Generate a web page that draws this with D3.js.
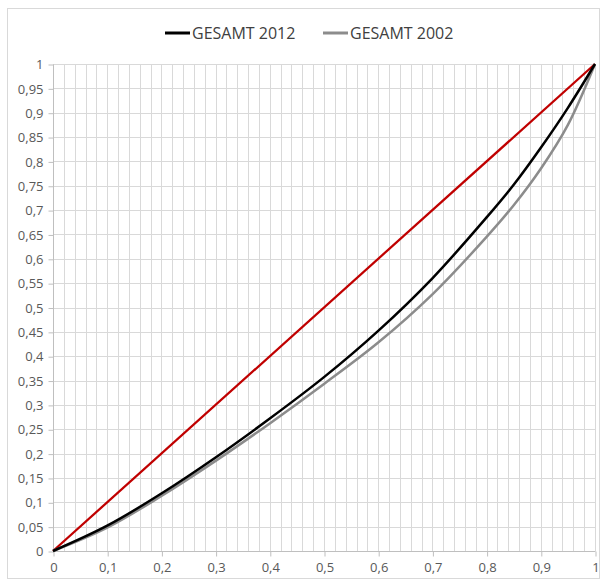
<!DOCTYPE html>
<html>
<head>
<meta charset="utf-8">
<script src="https://cdn.jsdelivr.net/npm/d3@7/dist/d3.min.js"></script>
<style>
  html, body { margin: 0; padding: 0; background: #fff; }
  svg { display: block; font-family: "Open Sans", "Liberation Sans", sans-serif; }
</style>
</head>
<body>
<svg id="chart" width="605" height="581"></svg>
<script>
// Cumulative population share (x) and cumulative income share (y)
const shares = [0, 0.1, 0.2, 0.3, 0.4, 0.5, 0.6, 0.7, 0.8, 0.85, 0.9, 0.95, 1];
const gesamt2012 = [0, 0.052, 0.118, 0.192, 0.272, 0.357, 0.452, 0.56, 0.685, 0.752, 0.828, 0.91, 1];
const gesamt2002 = [0, 0.048, 0.113, 0.185, 0.262, 0.343, 0.428, 0.527, 0.645, 0.71, 0.785, 0.875, 1];
const equality = [0, 1];

const seriesNames = ["GESAMT 2012", "GESAMT 2002"];
const seriesColors = ["#000000", "#8c8c8c"];
const xTicks = [0, 0.1, 0.2, 0.3, 0.4, 0.5, 0.6, 0.7, 0.8, 0.9, 1];
const yTicks = [0, 0.05, 0.1, 0.15, 0.2, 0.25, 0.3, 0.35, 0.4, 0.45, 0.5,
                0.55, 0.6, 0.65, 0.7, 0.75, 0.8, 0.85, 0.9, 0.95, 1];
const xMinor = d3.range(0, 51).map(i => i / 50);

const svg = d3.select("#chart");
const margin = { left: 53, top: 64 };
const plotW = 542, plotH = 487;

// Chart frame
svg.append("rect")
  .attr("x", 7.5).attr("y", 8.5)
  .attr("width", 592).attr("height", 570)
  .attr("fill", "#fff").attr("stroke", "#d9d9d9").attr("stroke-width", 1);

const x = d3.scaleLinear().domain([0, 1]).range([margin.left, margin.left + plotW]);
const y = d3.scaleLinear().domain([0, 1]).range([margin.top + plotH, margin.top]);

const fmt = d => String(+d.toFixed(2)).replace(".", ",");

// Gridlines
const grid = svg.append("g").attr("stroke", "#d9d9d9").attr("stroke-width", 1);
grid.selectAll("line.v").data(xMinor).join("line")
  .attr("class", "v")
  .attr("x1", d => Math.round(x(d)) + 0.5).attr("x2", d => Math.round(x(d)) + 0.5)
  .attr("y1", y(0)).attr("y2", y(1));
grid.selectAll("line.h").data(yTicks).join("line")
  .attr("class", "h")
  .attr("x1", x(0)).attr("x2", x(1))
  .attr("y1", d => Math.round(y(d)) + 0.5).attr("y2", d => Math.round(y(d)) + 0.5);

// Axes
const xAxis = svg.append("g")
  .attr("transform", `translate(0.5,${Math.round(y(0)) + 0.5})`)
  .call(d3.axisBottom(x).tickValues(xTicks).tickFormat(fmt).tickSize(5).tickPadding(6));
const yAxis = svg.append("g")
  .attr("transform", `translate(${Math.round(x(0)) + 0.5},0.5)`)
  .call(d3.axisLeft(y).tickValues(yTicks).tickFormat(fmt).tickSize(5).tickPadding(5));

[xAxis, yAxis].forEach(a => {
  a.select(".domain").attr("stroke", "#bfbfbf");
  a.selectAll(".tick line").attr("stroke", "#bfbfbf");
  a.selectAll(".tick text")
    .attr("fill", "#595959")
    .style("font-size", "13px")
    .style("font-family", "\"Open Sans\", sans-serif");
});
xAxis.select(".domain").attr("d", `M${x(0)},0H${x(1)}`);
yAxis.select(".domain").attr("d", `M0,${y(0)}V${y(1)}`);

// Lines
const line = d3.line().x(d => x(d[0])).y(d => y(d[1])).curve(d3.curveCatmullRom.alpha(0.5));

svg.append("path")
  .datum(equality.map(v => [v, v]))
  .attr("d", d3.line().x(d => x(d[0])).y(d => y(d[1])))
  .attr("fill", "none").attr("stroke", "#c00000").attr("stroke-width", 2.25);

svg.append("path")
  .datum(shares.map((s, i) => [s, gesamt2002[i]]))
  .attr("d", line)
  .attr("fill", "none").attr("stroke", seriesColors[1]).attr("stroke-width", 2.5);

svg.append("path")
  .datum(shares.map((s, i) => [s, gesamt2012[i]]))
  .attr("d", line)
  .attr("fill", "none").attr("stroke", seriesColors[0]).attr("stroke-width", 2.5);

// Legend
const legendX = [165, 323];
const legend = svg.append("g");
seriesNames.forEach((name, i) => {
  const g = legend.append("g").attr("transform", `translate(${legendX[i]},33)`);
  g.append("line").attr("x1", 0).attr("x2", 25).attr("y1", 0).attr("y2", 0)
    .attr("stroke", seriesColors[i]).attr("stroke-width", 3);
  g.append("text").attr("x", 27).attr("y", 0).attr("dy", "0.35em")
    .attr("fill", "#404040").style("font-size", "16px")
    .text(name);
});
</script>
</body>
</html>
